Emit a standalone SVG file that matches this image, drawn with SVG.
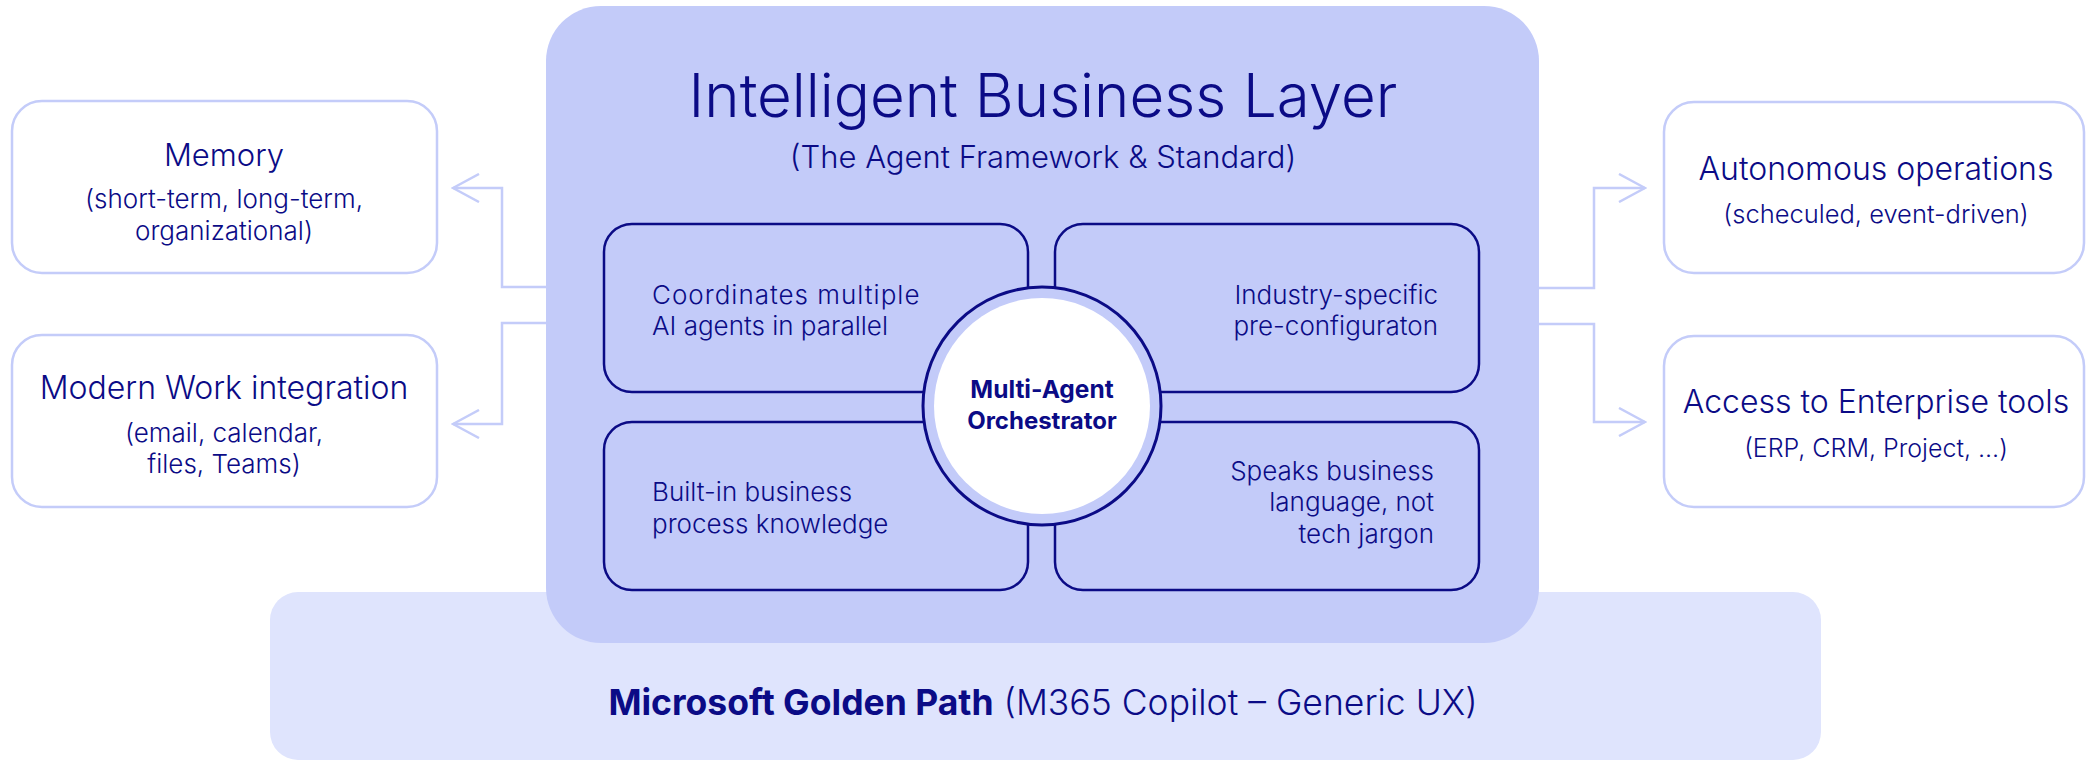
<svg xmlns="http://www.w3.org/2000/svg" width="2086" height="760" viewBox="0 0 2086 760">
<defs>
<style>
.t{font-family:Inter,"Liberation Sans",Arial,sans-serif;font-weight:300;fill:#0b0b86}
.b{font-family:Inter,"Liberation Sans",Arial,sans-serif;font-weight:700;fill:#0b0b86}
.side{fill:#ffffff;stroke:#c4ccf9;stroke-width:2.5}
.inner{fill:#c3cbf9;stroke:#0b0b86;stroke-width:2.5}
.conn{fill:none;stroke:#c4ccf9;stroke-width:2.5}
</style>
<marker id="arr" viewBox="0 0 30 30" refX="28" refY="15" markerWidth="30" markerHeight="30" markerUnits="userSpaceOnUse" orient="auto">
<path d="M2,1 L28,15 L2,29" fill="none" stroke="#c4ccf9" stroke-width="2.5"/>
</marker>
</defs>
<rect width="2086" height="760" fill="#ffffff"/>
<g id="golden-path">
<rect x="270" y="592" width="1551" height="168" rx="28" fill="#dfe4fd"/>
<text class="t" x="1043" y="715" font-size="35.5" text-anchor="middle"><tspan class="b">Microsoft Golden Path</tspan> (M365 Copilot – Generic UX)</text>
</g>
<g id="connectors">
<path class="conn" d="M547,287 H502 V188 H453" marker-end="url(#arr)"/>
<path class="conn" d="M547,323 H502 V424 H453" marker-end="url(#arr)"/>
<path class="conn" d="M1539,288 H1594 V188 H1645" marker-end="url(#arr)"/>
<path class="conn" d="M1539,324 H1594 V422 H1645" marker-end="url(#arr)"/>
</g>
<g id="intelligent-business-layer">
<rect x="546" y="6" width="993" height="637" rx="55" fill="#c3cbf9"/>
<text class="t" x="1043" y="117" font-size="60" text-anchor="middle">Intelligent Business Layer</text>
<text class="t" x="1043" y="168" font-size="31" text-anchor="middle">(The Agent Framework &amp; Standard)</text>
</g>
<g id="coordinates">
<rect class="inner" x="604" y="224" width="424" height="168" rx="28"/>
<text class="t" x="652" y="304" font-size="26" letter-spacing="1">Coordinates multiple</text>
<text class="t" x="652" y="335" font-size="26">AI agents in parallel</text>
</g>
<g id="industry">
<rect class="inner" x="1055" y="224" width="424" height="168" rx="28"/>
<text class="t" x="1438" y="304" font-size="26" text-anchor="end">Industry-specific</text>
<text class="t" x="1438" y="335" font-size="26" text-anchor="end">pre-configuraton</text>
</g>
<g id="built-in">
<rect class="inner" x="604" y="422" width="424" height="168" rx="28"/>
<text class="t" x="652" y="501" font-size="26">Built-in business</text>
<text class="t" x="652" y="533" font-size="26">process knowledge</text>
</g>
<g id="speaks">
<rect class="inner" x="1055" y="422" width="424" height="168" rx="28"/>
<text class="t" x="1434" y="480" font-size="26" text-anchor="end">Speaks business</text>
<text class="t" x="1434" y="511" font-size="26" text-anchor="end">language, not</text>
<text class="t" x="1434" y="543" font-size="26" text-anchor="end">tech jargon</text>
</g>
<g id="orchestrator">
<circle cx="1042" cy="406" r="119" fill="#c3cbf9" stroke="#0b0b86" stroke-width="3"/>
<circle cx="1042" cy="406" r="108" fill="#ffffff"/>
<text class="b" x="1042" y="398" font-size="24.5" text-anchor="middle">Multi-Agent</text>
<text class="b" x="1042" y="429" font-size="24" text-anchor="middle">Orchestrator</text>
</g>
<g id="memory">
<rect class="side" x="12" y="101" width="425" height="172" rx="30"/>
<text class="t" x="224" y="166" font-size="31" text-anchor="middle">Memory</text>
<text class="t" x="224" y="208" font-size="26" text-anchor="middle">(short-term, long-term,</text>
<text class="t" x="224" y="240" font-size="26" text-anchor="middle">organizational)</text>
</g>
<g id="modern-work">
<rect class="side" x="12" y="335" width="425" height="172" rx="30"/>
<text class="t" x="224" y="399" font-size="32" text-anchor="middle">Modern Work integration</text>
<text class="t" x="224" y="442" font-size="26" text-anchor="middle">(email, calendar,</text>
<text class="t" x="224" y="473" font-size="26" text-anchor="middle">files, Teams)</text>
</g>
<g id="autonomous">
<rect class="side" x="1664" y="102" width="420" height="171" rx="30"/>
<text class="t" x="1876" y="180" font-size="32" text-anchor="middle">Autonomous operations</text>
<text class="t" x="1876" y="223" font-size="25.5" text-anchor="middle">(scheculed, event-driven)</text>
</g>
<g id="enterprise-tools">
<rect class="side" x="1664" y="336" width="420" height="171" rx="30"/>
<text class="t" x="1876" y="413" font-size="32" text-anchor="middle">Access to Enterprise tools</text>
<text class="t" x="1876" y="457" font-size="25" text-anchor="middle">(ERP, CRM, Project, ...)</text>
</g>
</svg>
